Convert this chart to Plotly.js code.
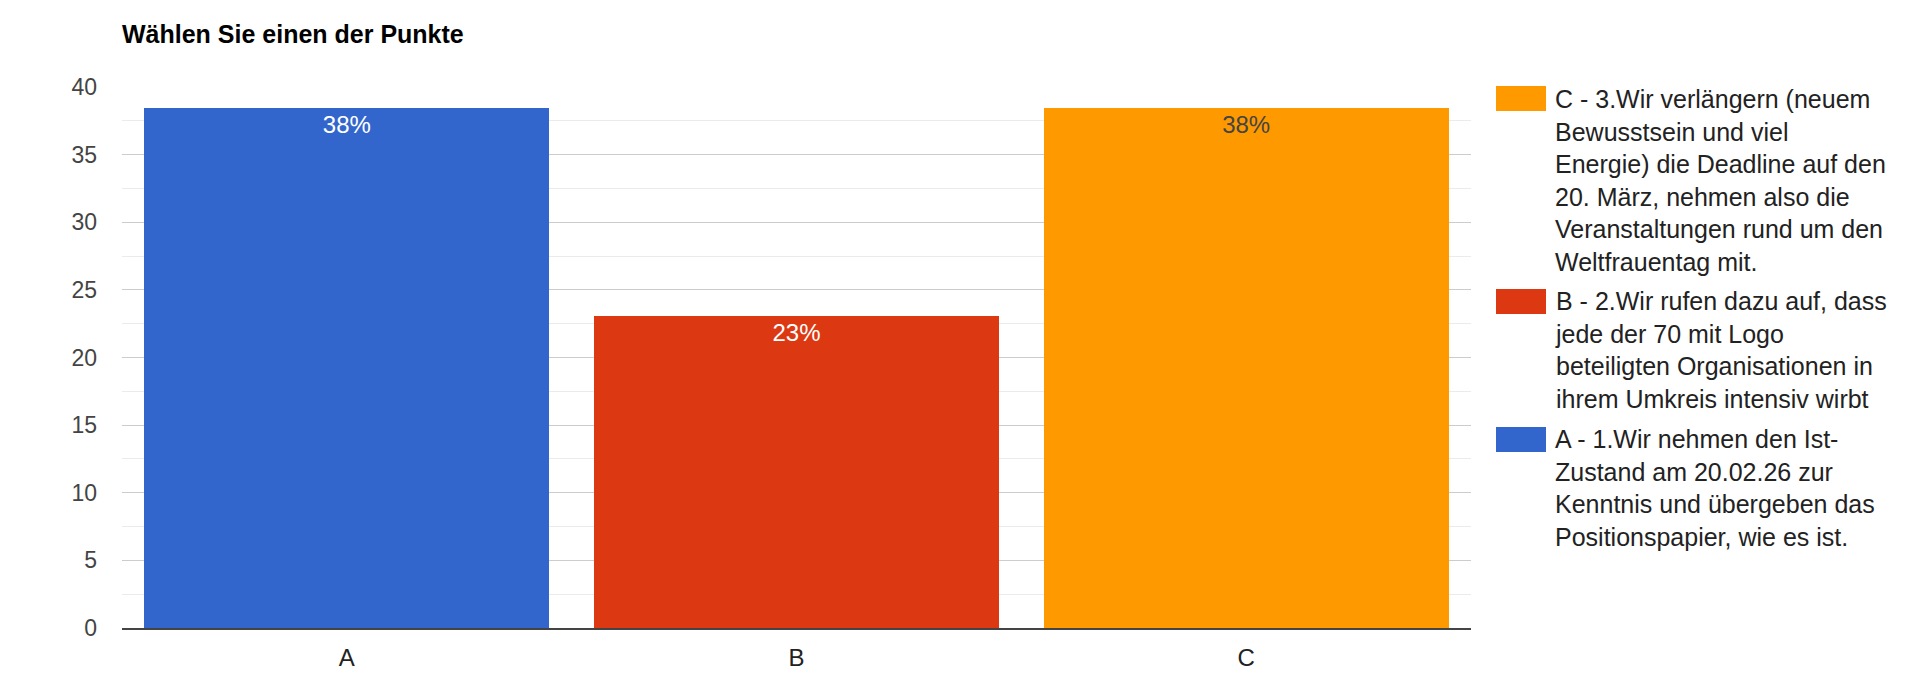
<!DOCTYPE html>
<html>
<head>
<meta charset="utf-8">
<script src="https://cdn.plot.ly/plotly-3.0.1.min.js"></script>
<style>
html,body{margin:0;padding:0;background:#fff;}
#chart{width:1920px;height:677px;}
</style>
</head>
<body>
<div id="chart"></div>
<script>
// Data
const categories = ['A', 'B', 'C'];
const values = [38.46, 23.08, 38.46];
const barLabels = ['38%', '23%', '38%'];
const legendLabels = [
  'A - 1.Wir nehmen den Ist-<br>Zustand am 20.02.26 zur<br>Kenntnis und übergeben das<br>Positionspapier, wie es ist.',
  'B - 2.Wir rufen dazu auf, dass<br>jede der 70 mit Logo<br>beteiligten Organisationen in<br>ihrem Umkreis intensiv wirbt',
  'C - 3.Wir verlängern (neuem<br>Bewusstsein und viel<br>Energie) die Deadline auf den<br>20. März, nehmen also die<br>Veranstaltungen rund um den<br>Weltfrauentag mit.'
];
const titleText = 'Wählen Sie einen der Punkte';
const yTicks = [0, 5, 10, 15, 20, 25, 30, 35, 40];

// Styles
const colors = ['#3366cc', '#dc3912', '#ff9900'];
const textColors = ['#ffffff', '#ffffff', '#444444'];
const FONT = 'Arial, "Liberation Sans", sans-serif';

const W = 1920, H = 677;
const M = {l: 122, r: 449, t: 87, b: 49};
const PW = W - M.l - M.r, PH = H - M.t - M.b;
const px2x = px => (px - M.l) / PW;
const px2y = py => (H - M.b - py) / PH;

const traces = categories.map((c, i) => ({
  type: 'bar',
  x: [c],
  y: [values[i]],
  name: legendLabels[i],
  text: [barLabels[i]],
  textposition: 'inside',
  insidetextanchor: 'end',
  textangle: 0,
  constraintext: 'none',
  textfont: {family: FONT, size: 24, color: textColors[i]},
  marker: {color: colors[i], line: {width: 0}},
  hoverinfo: 'x+y',
  showlegend: false
}));

// custom legend (order C, B, A top to bottom)
const legendSwatchTop = [427, 289, 86];
const legendTextTop = [423, 285, 83];
const shapes = [];
const annotations = [];
categories.forEach((c, i) => {
  shapes.push({
    type: 'rect', xref: 'paper', yref: 'paper',
    x0: px2x(1496), x1: px2x(1546),
    y0: px2y(legendSwatchTop[i] + 25), y1: px2y(legendSwatchTop[i]),
    fillcolor: colors[i], line: {width: 0}
  });
  annotations.push({
    xref: 'paper', yref: 'paper',
    x: px2x(1553), y: px2y(legendTextTop[i]),
    xanchor: 'left', yanchor: 'top', align: 'left',
    showarrow: false,
    text: legendLabels[i],
    font: {family: FONT, size: 25, color: '#222222'}
  });
});

const layout = {
  width: W, height: H,
  margin: M,
  paper_bgcolor: '#ffffff',
  plot_bgcolor: '#ffffff',
  barmode: 'stack',
  bargap: 0.1,
  font: {family: FONT, color: '#444444'},
  title: {
    text: '<b>' + titleText + '</b>',
    font: {family: FONT, size: 25, color: '#000000'},
    x: 0, xref: 'paper', xanchor: 'left',
    y: 1 - 34 / H, yref: 'container', yanchor: 'middle'
  },
  xaxis: {
    type: 'category',
    categoryarray: categories,
    showgrid: false,
    showline: true,
    linecolor: '#444444',
    linewidth: 1.5,
    ticks: '',
    ticklabelstandoff: 8,
    tickfont: {family: FONT, size: 24, color: '#222222'},
    fixedrange: true
  },
  yaxis: {
    range: [0, 40],
    tickvals: yTicks,
    ticks: '',
    showgrid: true,
    gridcolor: '#cccccc',
    gridwidth: 1,
    zeroline: false,
    showline: false,
    minor: {dtick: 2.5, showgrid: true, gridcolor: '#ebebeb', gridwidth: 1},
    ticklabelstandoff: 24,
    tickfont: {family: FONT, size: 23, color: '#444444'},
    fixedrange: true
  },
  shapes: shapes,
  annotations: annotations,
  showlegend: false
};

Plotly.newPlot('chart', traces, layout, {displayModeBar: false, staticPlot: true});
</script>
</body>
</html>
